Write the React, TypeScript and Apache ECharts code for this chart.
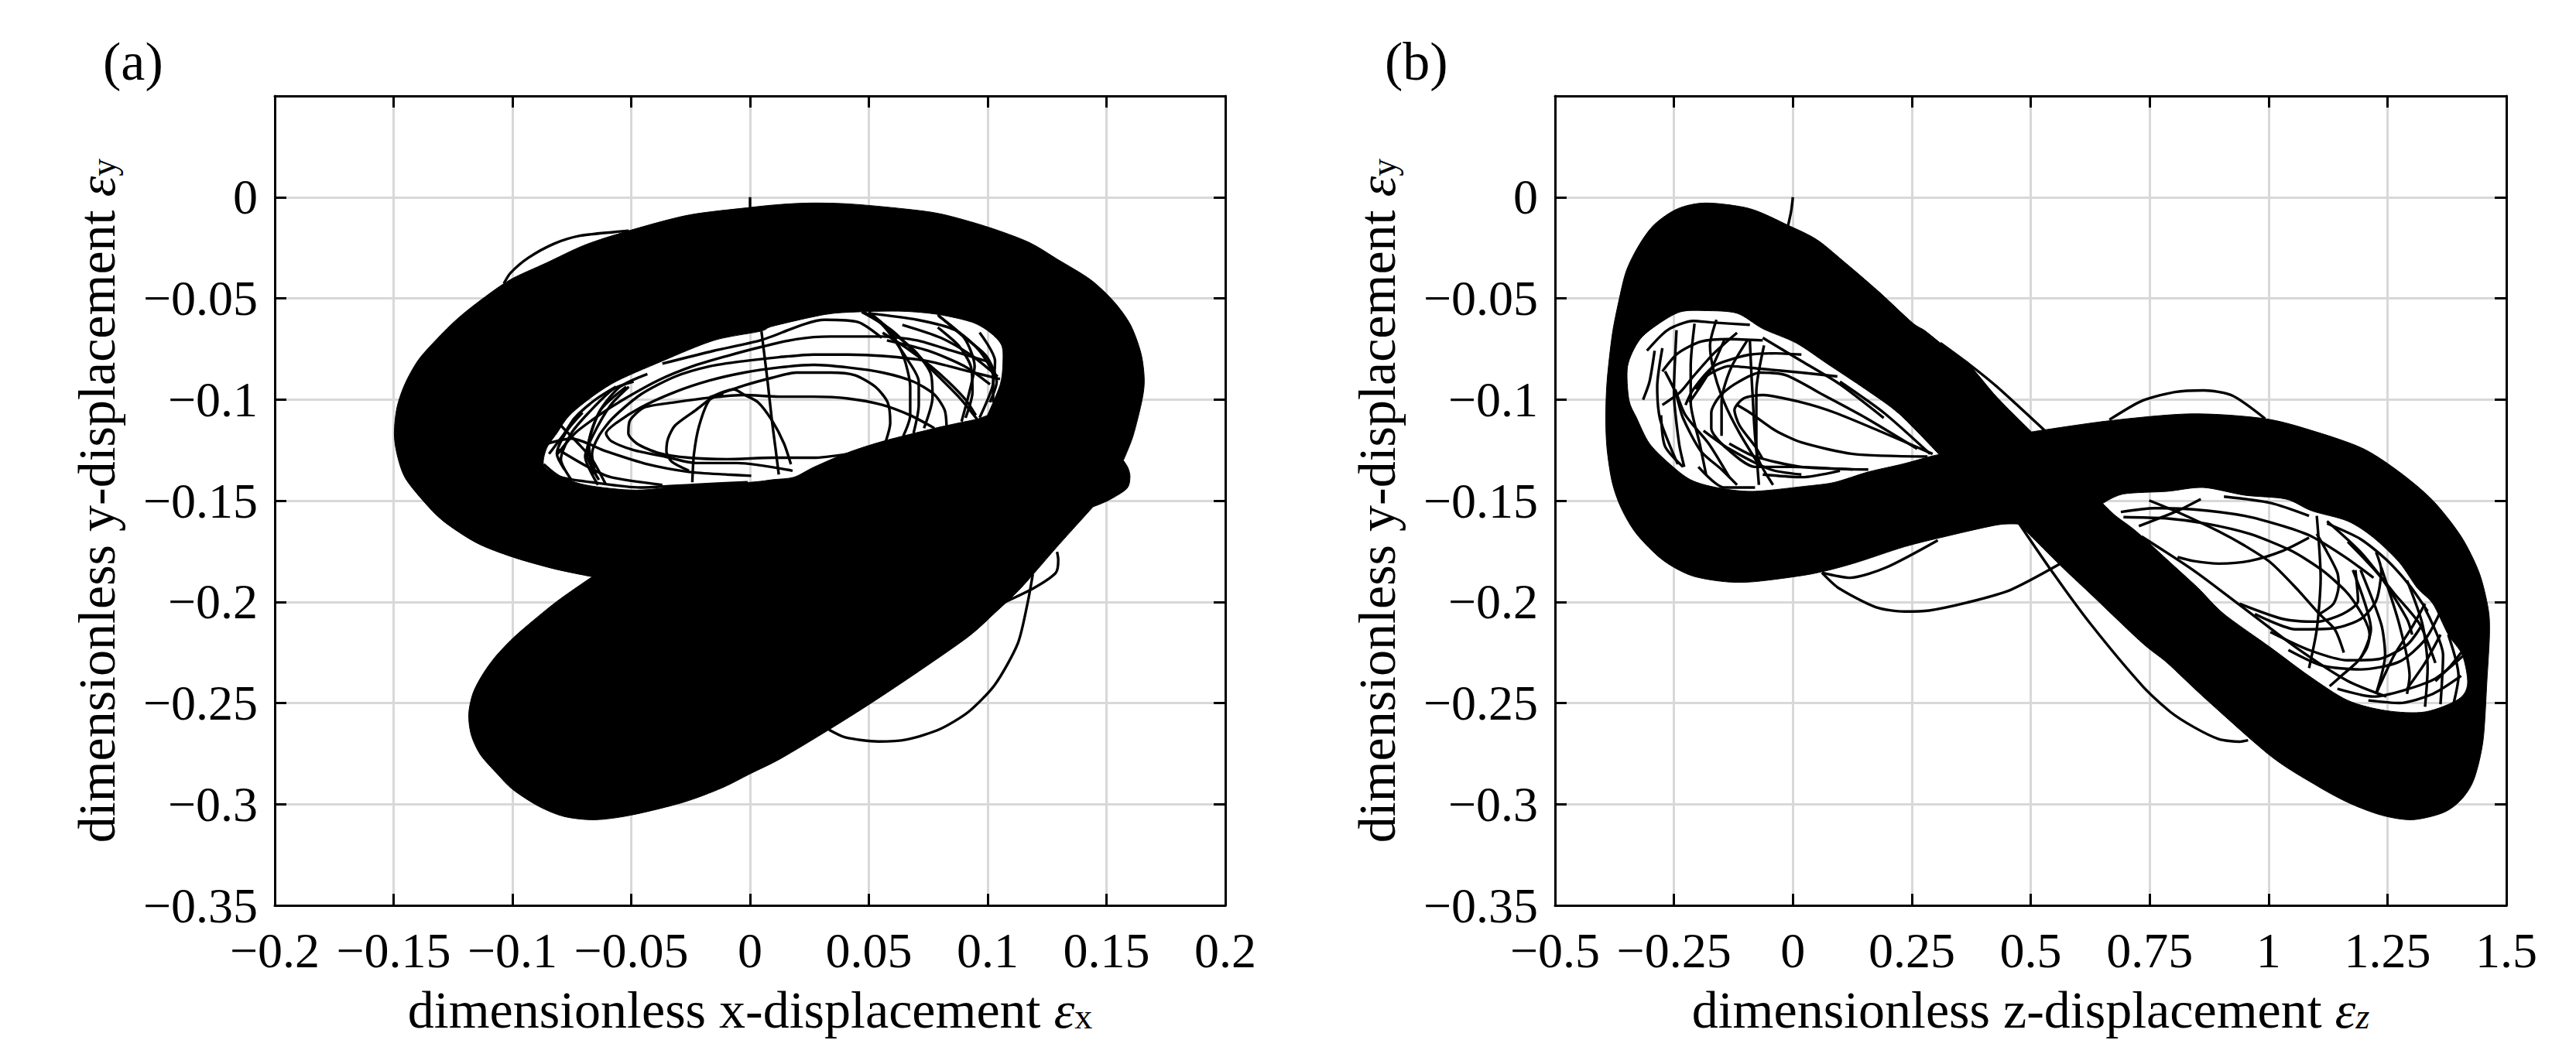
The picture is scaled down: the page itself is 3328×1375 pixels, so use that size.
import React, { useEffect, useRef } from "react";
import * as echarts from "echarts";

type P = number[];

// ---- tick values
const xTicksA = [-0.2, -0.15, -0.1, -0.05, 0, 0.05, 0.1, 0.15, 0.2];
const xTicksB = [-0.5, -0.25, 0, 0.25, 0.5, 0.75, 1, 1.25, 1.5];
const yTicks = [-0.35, -0.3, -0.25, -0.2, -0.15, -0.1, -0.05, 0];

// ---- panel (a): dense envelope of the trajectory (a repeated point is a sharp corner)
const outerA: P[] = [
  [0.013,-0.0036],[0,-0.0051],[-0.026,-0.0089],[-0.051,-0.0166],[-0.0694,-0.0236],[-0.0857,-0.0325],[-0.1009,-0.0408],[-0.1128,-0.0504],[-0.1236,-0.0606],[-0.1334,-0.0721],[-0.1399,-0.081],[-0.1453,-0.0925],[-0.1486,-0.104],[-0.1497,-0.1167],[-0.1486,-0.1269],[-0.1453,-0.1384],[-0.1377,-0.1499],[-0.1291,-0.1601],[-0.115,-0.1709],[-0.0998,-0.1779],[-0.0824,-0.1837],
  [-0.0664,-0.1876],[-0.0664,-0.1876],
  [-0.0804,-0.199],[-0.0912,-0.2092],[-0.0999,-0.2181],[-0.1075,-0.2276],[-0.1129,-0.2366],[-0.1167,-0.2455],[-0.1184,-0.2557],[-0.1173,-0.2659],[-0.1135,-0.2755],[-0.1064,-0.285],[-0.0999,-0.2927],[-0.089,-0.301],[-0.0782,-0.3061],[-0.0652,-0.3077],[-0.05,-0.3054],[-0.0282,-0.2991],[-0.0119,-0.292],[0,-0.285],[0.013,-0.2774],[0.0332,-0.2632],[0.0505,-0.2504],[0.0712,-0.2342],[0.092,-0.2171],[0.103,-0.2055],[0.114,-0.1932],[0.1292,-0.1728],
  [0.1444,-0.153],[0.1444,-0.153],
  [0.1509,-0.1498],[0.1585,-0.1441],[0.1599,-0.1384],[0.1591,-0.1339],
  [0.1571,-0.1301],[0.1571,-0.1301],
  [0.1612,-0.118],[0.165,-0.1001],[0.1659,-0.0899],[0.1645,-0.0771],[0.1601,-0.0631],[0.1531,-0.0516],[0.1433,-0.0408],[0.1292,-0.0306],[0.1173,-0.0223],[0.0999,-0.0147],[0.0803,-0.0083],[0.0641,-0.0057],[0.0423,-0.0034],[0.0261,-0.0029],
];
const holeA: P[] = [
  [-0.0868,-0.1327],[-0.0857,-0.1244],[-0.0813,-0.1167],[-0.0748,-0.1065],[-0.0586,-0.0925],[-0.0369,-0.081],[-0.0152,-0.0708],[0.0043,-0.0663],[0.0098,-0.0637],[0.0315,-0.058],[0.0456,-0.0567],[0.0641,-0.0564],[0.0793,-0.058],[0.0934,-0.0618],[0.101,-0.0669],[0.1059,-0.0733],[0.1064,-0.0822],[0.1053,-0.0925],
  [0.0999,-0.1078],[0.0999,-0.1078],
  [0.0955,-0.1097],[0.0879,-0.1116],[0.0782,-0.1141],[0.0564,-0.1205],[0.0413,-0.1262],[0.0271,-0.1333],[0.0185,-0.1384],[0.0098,-0.1396],[0,-0.1409],[-0.0239,-0.1422],[-0.0477,-0.1448],[-0.0694,-0.1422],[-0.0813,-0.1371],
];
// ---- panel (a): individual orbits
const orbitsA: P[][] = [
  [[0,0],[0,-0.0055]],
  [[-0.1036,-0.0427],[-0.1009,-0.0376],[-0.0933,-0.03],[-0.0824,-0.023],[-0.0716,-0.0191],[-0.0569,-0.0172],[-0.051,-0.0166]],
  [[0.0332,-0.2632],[0.0401,-0.267],[0.0539,-0.269],[0.066,-0.268],[0.0799,-0.2629],[0.092,-0.2543],[0.103,-0.241],[0.1127,-0.2205],[0.1169,-0.2],[0.119,-0.1863]],
  [[0.1058,-0.2009],[0.1194,-0.1932],[0.1287,-0.1856],[0.1297,-0.1792],[0.1292,-0.1753]],
  [[0.0048,-0.0663],[0.0074,-0.0912],[0.0092,-0.1103],[0.0106,-0.1231],[0.0121,-0.1371]],
  [[0.0172,-0.132],[0.0143,-0.1218],[0.0092,-0.1103],[0.0034,-0.1014],[-0.0025,-0.0976],[-0.0068,-0.095],[-0.0141,-0.0976],[-0.0228,-0.1052],[-0.0316,-0.1129],[-0.0345,-0.1193],[-0.0352,-0.1256],[-0.033,-0.1307],[-0.0257,-0.1352]],
  [[-0.0243,-0.1409],[-0.0236,-0.1269],[-0.0214,-0.1129],[-0.017,-0.1001],[-0.0112,-0.0976]],
  [[0.0776,-0.1142],[0.0674,-0.1078],[0.0558,-0.1027],[0.0412,-0.0995],[0.0267,-0.0986],[0.0121,-0.0986],[-0.0025,-0.0978],[-0.017,-0.0991],[-0.0316,-0.1014],[-0.0446,-0.104],[-0.0505,-0.1103],[-0.0512,-0.1167],[-0.0476,-0.1218],[-0.0388,-0.1263],[-0.0257,-0.1288],[-0.0097,-0.1295],[0.0092,-0.1288],[0.0267,-0.1288],[0.0412,-0.1269]],
  [[0.0572,-0.1205],[0.059,-0.1116],[0.0579,-0.1014],[0.0528,-0.0938],[0.0441,-0.088],[0.0339,-0.0867],[0.0194,-0.0867],[0.0092,-0.0893],[-0.0025,-0.0931],[-0.017,-0.0989]],
  [[0.0827,-0.1129],[0.0819,-0.1052],[0.0776,-0.0976],[0.0688,-0.0912],[0.0558,-0.0867],[0.0412,-0.0842],[0.0267,-0.0829],[0.0121,-0.0842],[-0.0025,-0.0867],[-0.017,-0.0906],[-0.0316,-0.0963],[-0.0461,-0.104],[-0.0563,-0.1116],[-0.0606,-0.1167],[-0.0585,-0.1205],[-0.049,-0.125],[-0.0359,-0.1282],[-0.0228,-0.1314],[-0.0054,-0.1314],[0.0179,-0.1352]],
  [[0.1052,-0.0899],[0.0921,-0.0861],[0.0747,-0.081],[0.0558,-0.0785],[0.0412,-0.0778],[0.0267,-0.0778],[0.0121,-0.0791],[-0.0025,-0.081],[-0.017,-0.0836],[-0.0316,-0.0887],[-0.0461,-0.0976],[-0.0577,-0.1091],[-0.0636,-0.118],[-0.0665,-0.1269],[-0.065,-0.1371]],
  [[0.0994,-0.081],[0.0849,-0.0759],[0.0703,-0.0708],[0.0558,-0.0689],[0.0339,-0.0689],[0.0194,-0.0702],[0.0048,-0.074],[-0.0097,-0.0785],[-0.0243,-0.0836],[-0.0388,-0.0906],[-0.0534,-0.1001],[-0.0636,-0.1078],[-0.0737,-0.1167],[-0.081,-0.1269]],
  [[0.0645,-0.118],[0.0674,-0.1078],[0.0674,-0.0938],[0.0645,-0.0785],[0.0587,-0.0657],[0.0499,-0.0568]],
  [[0.0688,-0.1167],[0.071,-0.1027],[0.071,-0.0912],[0.0659,-0.0797],[0.0558,-0.0632],[0.047,-0.0568]],
  [[0.0732,-0.1142],[0.0768,-0.0989],[0.0761,-0.0874],[0.0703,-0.0772],[0.0616,-0.0683],[0.0499,-0.0568]],
  [[0.0907,-0.1091],[0.0936,-0.0963],[0.0929,-0.0836],[0.0878,-0.0734],[0.079,-0.0644]],
  [[0.095,-0.1078],[0.0907,-0.1001],[0.0834,-0.0912],[0.0761,-0.0836],[0.0659,-0.0746],[0.0558,-0.067]],
  [[0.079,-0.0581],[0.0892,-0.0683],[0.0994,-0.0785],[0.1038,-0.0912],[0.1009,-0.1014]],
  [[0.1023,-0.1014],[0.1023,-0.0887],[0.0965,-0.0759],[0.0863,-0.0657],[0.0703,-0.0606],[0.0499,-0.0574]],
  [[-0.0854,-0.1218],[-0.0752,-0.1193],[-0.0606,-0.1256],[-0.0432,-0.132],[-0.0257,-0.1358],[-0.0097,-0.1371],[0.0005,-0.1377]],
  [[-0.0606,-0.1422],[-0.0665,-0.1295],[-0.0723,-0.1218],[-0.0796,-0.1129]],
  [[-0.0752,-0.1397],[-0.0796,-0.1295],[-0.0752,-0.1167],[-0.0679,-0.1065],[-0.0577,-0.095],[-0.049,-0.0912]],
  [[-0.0636,-0.1397],[-0.0687,-0.1269],[-0.0636,-0.1065],[-0.0548,-0.0938],[-0.0432,-0.0874]],
  [[-0.0868,-0.132],[-0.0796,-0.1384],[-0.0665,-0.1409],[-0.0461,-0.1435],[-0.0243,-0.1422],[-0.001,-0.1409]],
  [[-0.0846,-0.1269],[-0.0781,-0.1167],[-0.0738,-0.1091],[-0.0651,-0.1001],[-0.0564,-0.0937]],
  [[-0.0781,-0.1346],[-0.0813,-0.1269],[-0.077,-0.1154],[-0.0705,-0.1065]],
  [[-0.064,-0.1422],[-0.0694,-0.1282],[-0.0662,-0.118],[-0.0586,-0.1027],[-0.051,-0.0937]],
  [[-0.0662,-0.1371],[-0.0678,-0.1218],[-0.0629,-0.1052],[-0.0521,-0.0937]],
  [[-0.0813,-0.1244],[-0.0683,-0.1333],[-0.0586,-0.1384],[-0.0369,-0.1422]],
  [[-0.0369,-0.0823],[-0.0152,-0.0759],[0.0043,-0.0708],[0.0315,-0.0606],[0.0456,-0.0618],[0.0554,-0.0695]],
  [[0.0478,-0.0567],[0.0608,-0.0669],[0.0749,-0.0835],[0.0879,-0.0988],[0.0955,-0.1097]],
  [[0.0793,-0.0587],[0.0901,-0.0695],[0.0945,-0.0835],[0.0923,-0.0963],[0.089,-0.1109]],
  [[0.0966,-0.0669],[0.1031,-0.081],[0.102,-0.0937],[0.0966,-0.109]],
  [[0.0576,-0.0708],[0.0749,-0.0759],[0.0901,-0.0835],[0.101,-0.0925]],
  [[0.0641,-0.0631],[0.0803,-0.0695],[0.0934,-0.0784],[0.1042,-0.0886]],
];

// ---- panel (b): dense envelope of the trajectory
const outerB: P[] = [
  [-0.1824,-0.0029],[-0.0904,-0.0057],[-0.0092,-0.014],[0.0503,-0.021],[0.1044,-0.0313],[0.1802,-0.0466],[0.2505,-0.0619],[0.2776,-0.066],[0.3101,-0.0721],[0.3696,-0.0827],[0.4291,-0.0989],
  [0.5017,-0.116],[0.5017,-0.116],
  [0.6655,-0.1105],[0.8379,-0.1071],[0.993,-0.1095],[1.1,-0.116],[1.199,-0.1243],[1.2749,-0.1358],[1.3454,-0.1499],[1.405,-0.1677],[1.4429,-0.1856],[1.4619,-0.2034],[1.4646,-0.2162],[1.4592,-0.2391],[1.4511,-0.2685],[1.4321,-0.2876],[1.405,-0.2978],[1.367,-0.3042],[1.302,-0.3077],[1.237,-0.3054],[1.1665,-0.2991],[1.096,-0.2901],[1.0039,-0.2761],[0.8684,-0.2481],[0.7871,-0.2302],[0.7329,-0.22],[0.6245,-0.1958],[0.5611,-0.1817],
  [0.4758,-0.1616],[0.4758,-0.1616],
  [0.4291,-0.162],[0.3209,-0.1677],[0.2343,-0.1728],[0.1261,-0.1811],[0.0395,-0.1862],[-0.0795,-0.19],[-0.1445,-0.19],[-0.2148,-0.1869],[-0.2744,-0.1792],[-0.3285,-0.1665],[-0.3609,-0.1537],[-0.3799,-0.1409],[-0.3907,-0.1244],[-0.3934,-0.1091],[-0.3907,-0.0912],[-0.3799,-0.0682],[-0.3663,-0.0517],[-0.3501,-0.0364],[-0.3231,-0.0236],[-0.2906,-0.0134],[-0.2419,-0.0057],
];
const holeBLeft: P[] = [
  [0.3074,-0.1272],[0.3074,-0.1272],
  [0.2235,-0.1071],[0.1531,-0.095],[0.072,-0.0823],[0.007,-0.0721],[-0.0633,-0.065],[-0.1174,-0.0574],[-0.1824,-0.0561],[-0.2365,-0.0567],[-0.2852,-0.0631],[-0.3231,-0.0708],[-0.3474,-0.0835],[-0.3447,-0.1001],[-0.3285,-0.1091],[-0.3014,-0.1218],[-0.2581,-0.132],[-0.2148,-0.1397],[-0.1607,-0.1435],[-0.085,-0.1454],[0.0287,-0.1428],[0.0882,-0.1409],[0.1585,-0.1358],[0.2289,-0.132],[0.2884,-0.1282],
];
const holeBRight: P[] = [
  [0.6516,-0.1514],[0.6516,-0.1514],
  [0.695,-0.1467],[0.7871,-0.1454],[0.863,-0.1435],[0.9497,-0.1473],[1.0364,-0.1492],[1.0906,-0.155],[1.1665,-0.1601],[1.2207,-0.1683],[1.2749,-0.1805],[1.3128,-0.1932],[1.3454,-0.2009],[1.3779,-0.2162],[1.4077,-0.2264],[1.4185,-0.2404],[1.3995,-0.2481],[1.3291,-0.2544],[1.2478,-0.2538],[1.1665,-0.2487],[1.0852,-0.2366],[1.0039,-0.2225],[0.9063,-0.206],[0.8521,-0.1932],[0.7871,-0.1792],[0.7221,-0.1652],[0.6787,-0.1575],
];
// ---- panel (b): individual orbits, outside the envelope
const escapesB: P[][] = [
  [[0,0],[-0.0034,-0.0067],[-0.0103,-0.0143]],
  [[0.3101,-0.0721],[0.3696,-0.0824],[0.4291,-0.0937],[0.5362,-0.1168]],
  [[0.4739,-0.1607],[0.5465,-0.1856],[0.6265,-0.2111],[0.7355,-0.2417],[0.7936,-0.2544],[0.8445,-0.2621],[0.8953,-0.2678],[0.9389,-0.2691],[0.9571,-0.2684]],
  [[0.0611,-0.1856],[0.0963,-0.1932],[0.1741,-0.2026],[0.2345,-0.2048],[0.2862,-0.2043],[0.3724,-0.2],[0.4586,-0.194],[0.562,-0.1812]],
  [[0.0611,-0.1856],[0.1207,-0.1881],[0.1964,-0.183],[0.3047,-0.1696]],
  [[0.6655,-0.11],[0.7344,-0.1006],[0.8034,-0.0963],[0.8637,-0.0955],[0.924,-0.0981],[0.993,-0.1095]],
];
// ---- panel (b): orbits inside the left hole
const leftLoopsB: P[][] = [
  [[0.2938,-0.1269],[0.1802,-0.1154],[0.0882,-0.1065],[0.0179,-0.1014],[-0.0633,-0.0978],[-0.1039,-0.0995],[-0.1228,-0.1052],[-0.112,-0.1129],[-0.0795,-0.1231],[-0.0633,-0.1295]],
  [[-0.1174,-0.1027],[-0.0904,-0.1065],[-0.0363,-0.1154],[0.0179,-0.1212],[0.1261,-0.1269],[0.283,-0.1282]],
  [[0.2614,-0.1244],[0.1531,-0.1091],[0.072,-0.0988],[-0.0146,-0.088],[-0.0687,-0.0867],[-0.1228,-0.0925],[-0.1553,-0.0988],[-0.1715,-0.1065],[-0.1715,-0.1142],[-0.1445,-0.1231],[-0.0795,-0.1333],[-0.0038,-0.1333],[0.1261,-0.1346]],
  [[0.0936,-0.0886],[0.0179,-0.0867],[-0.0687,-0.0848],[-0.1337,-0.0835],[-0.1824,-0.0886],[-0.204,-0.095]],
  [[0.0179,-0.0778],[-0.0363,-0.0772],[-0.0904,-0.0778],[-0.1228,-0.0797],[-0.1661,-0.0835],[-0.2094,-0.095],[-0.2257,-0.1027]],
  [[-0.0633,-0.0708],[-0.1337,-0.0702],[-0.1932,-0.0714],[-0.2419,-0.0772],[-0.2744,-0.0861]],
  [[-0.0904,-0.0631],[-0.1715,-0.0619],[-0.2094,-0.0612],[-0.2635,-0.0657],[-0.3068,-0.0759]],
  [[-0.0606,-0.0733],[-0.0768,-0.0963],[-0.0768,-0.1218],[-0.0714,-0.1422]],
  [[-0.0904,-0.0708],[-0.085,-0.0963],[-0.0741,-0.1282],[-0.0417,-0.1422]],
  [[-0.1607,-0.0606],[-0.1742,-0.0733],[-0.1661,-0.0861],[-0.1445,-0.1014],[-0.112,-0.1167],[-0.0687,-0.1333]],
  [[-0.2067,-0.0625],[-0.2148,-0.0835],[-0.2148,-0.1014],[-0.1959,-0.1218],[-0.1824,-0.1371]],
  [[-0.2446,-0.0657],[-0.25,-0.0963],[-0.2392,-0.1218],[-0.2284,-0.1333]],
  [[-0.2744,-0.0746],[-0.2852,-0.0937],[-0.2798,-0.1091],[-0.2581,-0.1231],[-0.2419,-0.132]],
  [[-0.2906,-0.0759],[-0.3014,-0.0912],[-0.3149,-0.1001]],
  [[-0.2473,-0.095],[-0.2257,-0.1078],[-0.177,-0.1218],[-0.1337,-0.1384]],
  [[-0.2689,-0.0861],[-0.2473,-0.0963],[-0.2311,-0.1091],[-0.1932,-0.1256],[-0.1499,-0.1346],[-0.1174,-0.1422]],
  [[-0.0958,-0.0708],[-0.1282,-0.0835],[-0.1472,-0.0963],[-0.1499,-0.1027],[-0.1499,-0.118]],
  [[-0.1445,-0.0708],[-0.1715,-0.0848],[-0.1986,-0.095],[-0.2175,-0.1014]],
  [[-0.1174,-0.067],[-0.1661,-0.0772],[-0.2094,-0.0886],[-0.2365,-0.0963],[-0.2744,-0.1027]],
  [[-0.2771,-0.1078],[-0.2689,-0.1231],[-0.2311,-0.1333]],
  [[-0.1878,-0.1154],[-0.1337,-0.1244],[-0.0471,-0.1346],[0.0179,-0.1371]],
  [[-0.1337,-0.1218],[-0.0795,-0.1282],[0.0179,-0.1333],[0.1585,-0.1346]],
  [[0.191,-0.1091],[0.099,-0.0925],[0.0179,-0.081],[-0.0633,-0.0695]],
  [[0.2884,-0.1269],[0.191,-0.1065],[0.099,-0.0912]],
  [[-0.0633,-0.1371],[0.0179,-0.1384],[0.099,-0.1352]],
  [[-0.1986,-0.1333],[-0.1445,-0.1435],[-0.0795,-0.1435]],
];
// ---- panel (b): orbits inside the right hole
const rightLoopsB: P[][] = [
  [[0.7275,-0.1626],[0.8088,-0.155],[0.8576,-0.1492]],
  [[0.6895,-0.1556],[0.76,-0.1537],[0.8413,-0.1543],[0.9497,-0.1575],[1.031,-0.1626],[1.0906,-0.1677],[1.1611,-0.1779],[1.2207,-0.1881]],
  [[0.695,-0.1581],[0.7871,-0.1588],[0.8684,-0.1613],[0.9605,-0.1664],[1.0473,-0.1747],[1.1123,-0.1843],[1.1665,-0.1958],[1.199,-0.2072],[1.2125,-0.2162],[1.2071,-0.2225],[1.1936,-0.2277]],
  [[0.8088,-0.1779],[0.8413,-0.1798],[0.8955,-0.1811],[0.9605,-0.1798],[1.031,-0.1747],[1.0852,-0.1683]],
  [[0.7492,-0.1499],[0.8142,-0.1562],[0.8955,-0.1652],[0.9497,-0.1722],[1.0039,-0.1805],[1.0581,-0.1932],[1.1069,-0.206],[1.1394,-0.2136],[1.1584,-0.2251]],
  [[1.1069,-0.206],[1.1367,-0.2009],[1.1475,-0.1919],[1.1448,-0.1856],[1.1231,-0.1754],[1.1015,-0.1664]],
  [[1.1015,-0.1575],[1.1096,-0.1881],[1.1015,-0.2136],[1.0852,-0.2327]],
  [[0.9389,-0.2009],[1.031,-0.2085],[1.1015,-0.2098],[1.1557,-0.206],[1.1882,-0.1996],[1.1827,-0.1843]],
  [[0.9714,-0.206],[1.0581,-0.2136],[1.1394,-0.213],[1.1936,-0.2085],[1.2261,-0.1996],[1.237,-0.1843],[1.2261,-0.1754]],
  [[1.0039,-0.2149],[1.0852,-0.2238],[1.1665,-0.2289],[1.2315,-0.2283],[1.2912,-0.2213],[1.3237,-0.2111]],
  [[1.0418,-0.2238],[1.1123,-0.2315],[1.1936,-0.2334],[1.2749,-0.2296],[1.3291,-0.2187],[1.367,-0.2021]],
  [[1.1448,-0.243],[1.2207,-0.2468],[1.2857,-0.2436],[1.3508,-0.2379],[1.4104,-0.2264]],
  [[1.2099,-0.2487],[1.2749,-0.25],[1.3454,-0.2455],[1.405,-0.2366]],
  [[1.1773,-0.1843],[1.2153,-0.2136],[1.1936,-0.2277],[1.153,-0.2366],[1.1285,-0.2417]],
  [[1.1936,-0.1843],[1.237,-0.2111],[1.2451,-0.2264],[1.2261,-0.2455]],
  [[1.237,-0.183],[1.2749,-0.2111],[1.2966,-0.2366],[1.2912,-0.2455]],
  [[1.2912,-0.1894],[1.3237,-0.2111],[1.3345,-0.2327],[1.3291,-0.2519]],
  [[1.3291,-0.2034],[1.367,-0.2264],[1.3616,-0.2506]],
  [[1.3779,-0.2162],[1.3995,-0.2366],[1.3887,-0.2506]],
  [[1.2261,-0.2455],[1.2641,-0.2264],[1.302,-0.2124],[1.3291,-0.2009]],
  [[1.2912,-0.243],[1.3291,-0.2302],[1.3616,-0.2162]],
  [[1.3508,-0.2392],[1.3833,-0.2315],[1.405,-0.2251]],
  [[1.1665,-0.1703],[1.237,-0.1881],[1.2912,-0.2085],[1.302,-0.2162]],
  [[1.1231,-0.1601],[1.1936,-0.1754],[1.2641,-0.1958],[1.3182,-0.2111],[1.3508,-0.2302]],
  [[0.7329,-0.1677],[0.8413,-0.1843],[0.9497,-0.2034],[1.0581,-0.2226],[1.1665,-0.2391],[1.2478,-0.2468]],
  [[0.9063,-0.148],[1.0039,-0.1511],[1.0852,-0.1575]],
  [[1.1231,-0.1613],[1.1936,-0.169],[1.2478,-0.1792],[1.2966,-0.1919],[1.3345,-0.2047]],
];

const FONT = '"Liberation Serif"';
const BLACK = "#000000";
const GRID = "#d8d8d8";
const LABEL = 64;
const NAME = 68;

const signedArea = (r: number[][]) => {
  let a = 0;
  for (let i = 0; i < r.length; i++) {
    const p = r[i], q = r[(i + 1) % r.length];
    a += p[0] * q[1] - q[0] * p[1];
  }
  return a;
};

// closed Catmull-Rom ring through projected points; a repeated point has no tangent
const ringPath = (r: number[][]) => {
  const n = r.length;
  const tan = (i: number) => {
    const a = r[(i - 1 + n) % n], b = r[i], c = r[(i + 1) % n];
    const same = (u: number[], v: number[]) => u[0] === v[0] && u[1] === v[1];
    if (same(a, b) || same(b, c)) return [0, 0];
    return [(c[0] - a[0]) / 7, (c[1] - a[1]) / 7];
  };
  let d = `M${r[0][0]} ${r[0][1]}`;
  for (let i = 0; i < n; i++) {
    const j = (i + 1) % n;
    const t1 = tan(i), t2 = tan(j);
    d += `C${r[i][0] + t1[0]} ${r[i][1] + t1[1]} ${r[j][0] - t2[0]} ${r[j][1] - t2[1]} ${r[j][0]} ${r[j][1]}`;
  }
  return d + "Z";
};

const band = (outer: P[], holes: P[][], axis: number) => ({
  type: "custom",
  coordinateSystem: "cartesian2d",
  xAxisIndex: axis,
  yAxisIndex: axis,
  silent: true,
  z: 3,
  encode: { x: 0, y: 1 },
  data: [outer[0]],
  renderItem: (_: any, api: any) => {
    const O = outer.map((p) => api.coord(p));
    const sign = signedArea(O) > 0;
    let d = ringPath(O);
    holes.forEach((h) => {
      const H = h.map((p) => api.coord(p));
      if (signedArea(H) > 0 === sign) H.reverse();
      d += ringPath(H);
    });
    return { type: "path", shape: { pathData: d }, style: { fill: BLACK, stroke: BLACK, lineWidth: 1 } };
  },
});

const orbit = (pts: P[], axis: number) => ({
  type: "line",
  xAxisIndex: axis,
  yAxisIndex: axis,
  data: pts,
  showSymbol: false,
  silent: true,
  smooth: 0.25,
  z: 4,
  lineStyle: { color: BLACK, width: 3.4 },
});

const fmt = (v: number) => {
  if (v > 0.001) return parseFloat(v.toFixed(2)).toString();
  if (Math.abs(v) < 1e-9) return "0";
  return "\u2212" + parseFloat(Math.abs(v).toFixed(2)).toString();
};
const fmtY = (v: number) => (v > 0.001 ? "" : fmt(v));

const rich = {
  n: { fontFamily: FONT, fontSize: NAME, color: BLACK },
  e: { fontFamily: FONT, fontSize: NAME, fontStyle: "italic", color: BLACK },
  s: { fontFamily: FONT, fontSize: 46, color: BLACK, padding: [16, 0, 0, 0] },
  si: { fontFamily: FONT, fontSize: 46, fontStyle: "italic", color: BLACK, padding: [16, 0, 0, 0] },
};

const axisLine = { onZero: false, show: true, lineStyle: { color: BLACK, width: 3 } };
const axisTick = { show: true, inside: true, length: 15, lineStyle: { color: BLACK, width: 3 } };

const xPair = (gridIndex: number, ticks: number[], step: number, name: string) => [
  {
    type: "value", gridIndex, position: "bottom", min: ticks[0], max: ticks[ticks.length - 1], interval: step,
    axisLine, axisTick,
    axisLabel: { formatter: fmt, fontFamily: FONT, fontSize: LABEL, color: BLACK, margin: 26, hideOverlap: false, showMinLabel: true, showMaxLabel: true },
    splitLine: { show: true, lineStyle: { color: GRID, width: 3 } },
    name, nameLocation: "middle", nameGap: 101, nameTextStyle: { rich, fontFamily: FONT, fontSize: NAME, color: BLACK },
  },
  {
    type: "value", gridIndex, position: "top", min: ticks[0], max: ticks[ticks.length - 1], interval: step,
    axisLine, axisTick, axisLabel: { show: false }, splitLine: { show: false },
  },
];

const yPair = (gridIndex: number, name: string) => [
  {
    type: "value", gridIndex, position: "left", min: yTicks[0], max: 0.05, interval: 0.05,
    axisLine, axisTick,
    axisLabel: { formatter: fmtY, fontFamily: FONT, fontSize: LABEL, color: BLACK, margin: 22, showMinLabel: true, showMaxLabel: true },
    splitLine: { show: true, lineStyle: { color: GRID, width: 3 } },
    name, nameLocation: "middle", nameGap: 196, nameTextStyle: { rich, fontFamily: FONT, fontSize: NAME, color: BLACK },
  },
  {
    type: "value", gridIndex, position: "right", min: yTicks[0], max: 0.05, interval: 0.05,
    axisLine, axisTick, axisLabel: { show: false }, splitLine: { show: false },
  },
];

export default function App() {
  const ref = useRef<HTMLDivElement>(null);
  useEffect(() => {
    document.body.style.margin = "0";
    const chart = echarts.init(ref.current!, null, { renderer: "svg" });
    const xA = xPair(0, xTicksA, 0.05, "{n|dimensionless x-displacement }{e|\u03b5}{s|x}");
    const xB = xPair(1, xTicksB, 0.25, "{n|dimensionless z-displacement }{e|\u03b5}{si|z}");
    const yA = yPair(0, "{n|dimensionless y-displacement }{e|\u03b5}{s|y}");
    const yB = yPair(1, "{n|dimensionless y-displacement }{e|\u03b5}{s|y}");
    chart.setOption({
      animation: false,
      backgroundColor: "#ffffff",
      tooltip: { show: false },
      legend: { show: false },
      title: [
        { text: "(a)", left: 128, top: 39, textStyle: { fontFamily: FONT, fontSize: 70, fontWeight: "normal", color: BLACK } },
        { text: "(b)", left: 1784, top: 39, textStyle: { fontFamily: FONT, fontSize: 70, fontWeight: "normal", color: BLACK } },
      ],
      grid: [
        { left: 355, top: 124, width: 1228, height: 1046 },
        { left: 2009, top: 124, width: 1229, height: 1046 },
      ],
      // axes 0/1 are panel (a) and its mirror, axes 2/3 are panel (b) and its mirror
      xAxis: [...xA, ...xB],
      yAxis: [...yA, ...yB],
      series: [
        band(outerA, [holeA], 0),
        ...orbitsA.map((o) => orbit(o, 0)),
        band(outerB, [holeBLeft, holeBRight], 2),
        ...escapesB.map((o) => orbit(o, 2)),
        ...leftLoopsB.map((o) => orbit(o, 2)),
        ...rightLoopsB.map((o) => orbit(o, 2)),
      ],
    });
    return () => chart.dispose();
  }, []);
  return <div ref={ref} style={{ position: "absolute", left: 0, top: 0, width: 3328, height: 1375 }} />;
}
